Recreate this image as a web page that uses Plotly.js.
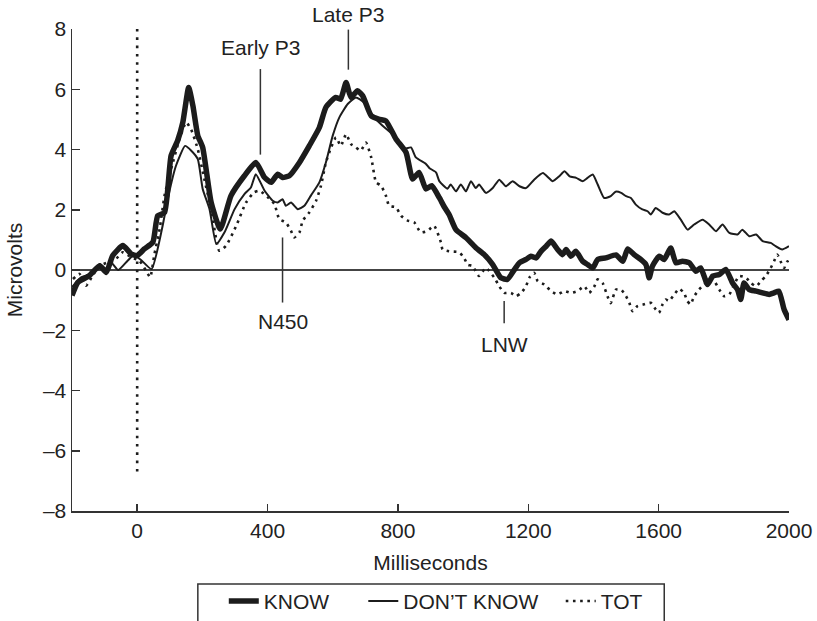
<!DOCTYPE html>
<html>
<head>
<meta charset="utf-8">
<script src="https://cdn.plot.ly/plotly-3.0.1.min.js"></script>
<style>html,body{margin:0;padding:0;background:#fff;}#chart{width:817px;height:621px;}</style>
</head>
<body>
<div id="chart"></div>
<script>
// KNOW (thick solid)
var knowMs = [-200,-182,-147,-115,-95,-75,-44,-18,0,22,48,63,84,104,124,140,158,171,186,201,227,255,288,329,364,391,411,431,446,467,498,528,559,579,609,624,641,656,676,692,718,743,763,794,825,845,865,886,904,927,942,957,978,1009,1039,1065,1091,1116,1136,1158,1173,1193,1208,1224,1239,1255,1270,1290,1305,1316,1331,1346,1367,1382,1398,1413,1438,1469,1490,1505,1525,1545,1561,1571,1581,1602,1617,1637,1653,1673,1694,1714,1729,1750,1766,1786,1806,1827,1842,1852,1862,1878,1899,1919,1939,1954,1969,1985,2000];
var knowUv = [-0.85,-0.41,-0.19,0.14,-0.08,0.48,0.81,0.53,0.48,0.70,0.92,1.8,1.91,3.79,4.29,4.9,6.06,5.45,4.46,4.07,2.24,1.36,2.47,3.13,3.57,3.07,2.91,3.18,3.07,3.13,3.57,4.12,4.73,5.40,5.73,5.67,6.22,5.73,5.95,5.78,5.12,5.0,4.95,4.35,3.9,3.02,3.24,2.69,2.8,2.4,2.1,1.84,1.34,1.07,0.74,0.51,0.18,-0.26,-0.31,0.02,0.24,0.35,0.46,0.40,0.62,0.79,0.96,0.68,0.51,0.68,0.46,0.62,0.29,0.18,0.07,0.35,0.40,0.5,0.29,0.7,0.51,0.35,0.18,-0.26,0.13,0.46,0.35,0.73,0.24,0.29,0.24,-0.04,0.07,-0.48,-0.2,-0.15,0.02,-0.43,-0.65,-0.98,-0.43,-0.65,-0.7,-0.76,-0.81,-0.76,-0.7,-1.31,-1.65];

// DON'T KNOW (thin solid)
var dkMs = [-200,-172,-142,-115,-95,-80,-58,-30,-12,10,44,76,96,119,147,166,186,201,222,243,268,299,329,349,364,391,416,431,446,456,472,493,513,533,559,579,600,620,646,671,696,723,753,783,815,840,855,886,897,917,927,952,962,978,993,1009,1024,1039,1049,1070,1091,1111,1131,1152,1173,1193,1218,1245,1275,1295,1311,1327,1347,1367,1382,1398,1413,1433,1453,1468,1485,1500,1515,1530,1550,1566,1576,1591,1612,1632,1648,1668,1689,1709,1735,1755,1776,1796,1817,1842,1857,1878,1899,1919,1944,1959,1979,2000];
var dkUv = [-0.57,-0.24,-0.13,0.2,0.03,0.25,0.0,0.3,0.48,0.35,0.03,1.36,2.47,3.46,4.12,3.96,3.68,2.69,2.02,0.86,1.25,2.02,2.52,2.74,3.18,2.63,2.30,2.24,2.35,2.13,2.24,2.02,2.13,2.47,2.91,3.57,4.46,5.06,5.51,5.73,5.56,5.12,4.79,4.51,4.01,4.07,3.74,3.52,3.38,3.24,2.95,2.7,2.84,2.61,2.84,2.61,2.95,2.72,2.84,2.56,2.72,3.0,2.78,2.95,2.78,2.72,3.0,3.22,2.95,3.11,3.28,3.11,3.06,2.95,3.06,3.17,2.84,2.39,2.45,2.6,2.56,2.45,2.39,2.17,2.01,1.95,1.84,2.06,1.90,1.84,1.95,1.67,1.34,1.51,1.67,1.51,1.29,1.51,1.23,1.18,1.34,1.12,1.18,0.96,0.90,0.79,0.68,0.79];

// TOT (dotted)
var totMs = [-197,-177,-157,-137,-115,-90,-70,-44,-18,7,27,40,53,69,84,104,130,150,165,186,206,227,252,273,304,334,359,376,401,421,436,456,472,482,498,508,528,549,564,579,595,610,625,641,656,671,686,702,718,733,748,763,773,794,810,830,850,870,891,911,932,937,957,988,1003,1014,1029,1049,1070,1096,1111,1126,1147,1162,1178,1193,1203,1218,1229,1249,1270,1290,1311,1331,1351,1372,1387,1403,1413,1428,1443,1453,1469,1485,1500,1510,1520,1535,1555,1576,1591,1601,1612,1622,1632,1648,1663,1678,1688,1698,1709,1724,1745,1766,1786,1801,1817,1832,1847,1868,1883,1899,1914,1929,1944,1954,1964,1974,1985,1995,2000];
var totUv = [-0.3,-0.13,-0.52,-0.19,0.14,0.25,0.31,0.59,0.42,0.31,-0.02,-0.24,0.53,1.36,2.47,3.35,4.35,4.90,4.68,4.01,3.02,2.02,0.64,0.81,1.47,2.24,2.58,2.63,2.41,2.19,1.69,1.58,1.30,1.08,1.25,1.64,1.91,2.30,2.80,3.57,4.07,4.40,4.12,4.51,4.18,4.07,3.96,4.23,3.74,2.91,2.80,2.47,2.13,2.08,1.80,1.64,1.58,1.25,1.30,1.47,0.92,0.68,0.62,0.59,0.40,0.18,0.13,-0.2,0.07,-0.26,-0.54,-0.76,-0.76,-0.87,-0.76,-0.54,-0.26,-0.09,-0.37,-0.48,-0.70,-0.81,-0.70,-0.76,-0.70,-0.54,-0.76,-0.54,-0.31,-0.43,-0.87,-1.1,-0.65,-0.65,-0.87,-1.09,-1.37,-1.20,-1.14,-1.09,-1.31,-1.42,-1.14,-0.98,-1.03,-0.81,-0.62,-0.76,-1.03,-1.14,-0.87,-0.65,-0.43,-0.31,-0.65,-0.87,-0.81,-0.48,-0.2,-0.26,-0.43,-0.54,-0.37,-0.20,0.07,0.29,0.51,0.29,0.07,0.29,0.18];

// Stimulus onset marker
var onsetMs = [0, 0];
var onsetUv = [8, -6.7];

// Axis ranges and tick labels
var xRange = [-200, 2000];
var yRange = [-8, 8];
var xTickVals = [0, 400, 800, 1200, 1600, 2000];
var xTickText = ['0', '400', '800', '1200', '1600', '2000'];
var yTickVals = [-8, -6, -4, -2, 0, 2, 4, 6, 8];
var yTickText = ['\u20138', '\u20136', '\u20134', '\u20132', '0', '2', '4', '6', '8'];

// Series names
var seriesNames = ['KNOW', 'DON\u2019T KNOW', 'TOT'];

// Component labels
var compNames = ['Early P3', 'Late P3', 'N450', 'LNW'];
var compMs = [378, 648, 446, 1126];
var compLineTop = [6.67, 7.98, 1.08, -1.03];
var compLineBottom = [3.83, 6.65, -1.08, -1.77];
var compTextY = [7.38, 8.47, -1.71, -2.47];

var ink = '#1c1c1c';
var fontFam = 'Liberation Sans, Arial, Helvetica, sans-serif';
var FS = 21;

// pad legend entries to match the wider spacing of the original key
var legendPad = ['\u00a0\u00a0\u00a0\u00a0\u00a0', '\u00a0\u00a0\u00a0', ''];

var traces = [
  {x: onsetMs, y: onsetUv, mode: 'lines', showlegend: false, hoverinfo: 'skip',
   line: {color: ink, width: 2.6, dash: '2.6px,5.7px'}},
  {x: knowMs, y: knowUv, mode: 'lines', name: seriesNames[0] + legendPad[0],
   line: {color: ink, width: 5.5, shape: 'spline', smoothing: 0.5}},
  {x: dkMs, y: dkUv, mode: 'lines', name: seriesNames[1] + legendPad[1],
   line: {color: ink, width: 2, shape: 'spline', smoothing: 0.5}},
  {x: totMs, y: totUv, mode: 'lines', name: seriesNames[2] + legendPad[2],
   line: {color: ink, width: 2.6, dash: '2.6px,4.6px', shape: 'spline', smoothing: 0.5}}
];

var shapes = compNames.map(function (n, i) {
  return {type: 'line', xref: 'x', yref: 'y', x0: compMs[i], x1: compMs[i],
          y0: compLineBottom[i], y1: compLineTop[i], line: {color: '#333', width: 1.5}};
});
// legend frame (runs past the bottom edge, as in the original)
shapes.push({type: 'rect', xref: 'paper', yref: 'paper', x0: 0.1755, x1: 0.826, y0: -0.1515, y1: -0.30,
             line: {color: '#333', width: 1.5}, fillcolor: 'rgba(0,0,0,0)'});

var annotations = compNames.map(function (n, i) {
  return {x: compMs[i], xref: 'x',
          y: (compTextY[i] - yRange[0]) / (yRange[1] - yRange[0]), yref: 'paper',
          text: n, showarrow: false, xanchor: 'center', yanchor: 'middle',
          font: {family: fontFam, size: FS, color: '#222'}};
});

var layout = {
  width: 817, height: 621,
  margin: {l: 72, r: 28, t: 29, b: 110, autoexpand: false},
  paper_bgcolor: '#fff', plot_bgcolor: '#fff',
  font: {family: fontFam, size: FS, color: '#222'},
  showlegend: true,
  legend: {orientation: 'h', x: 0.2117, xanchor: 'left', y: -0.145, yanchor: 'top',
           font: {family: fontFam, size: FS, color: '#222'}, borderwidth: 0,
           bgcolor: 'rgba(0,0,0,0)'},
  xaxis: {range: xRange, tickvals: xTickVals, ticktext: xTickText,
          ticks: 'inside', ticklen: 7, tickwidth: 1.5, tickcolor: '#333',
          showline: true, linecolor: '#333', linewidth: 1.5, showgrid: false, zeroline: false,
          tickfont: {family: fontFam, size: FS, color: '#222'},
          title: {text: 'Milliseconds', font: {family: fontFam, size: FS, color: '#222'}, standoff: 14}},
  yaxis: {range: yRange, tickvals: yTickVals, ticktext: yTickText,
          ticks: 'inside', ticklen: 8, tickwidth: 1.5, tickcolor: '#333',
          showline: true, linecolor: '#333', linewidth: 1.5, showgrid: false,
          zeroline: true, zerolinecolor: '#444', zerolinewidth: 1.5,
          tickfont: {family: fontFam, size: FS, color: '#222'},
          title: {text: 'Microvolts', font: {family: fontFam, size: FS, color: '#222'}, standoff: 14}},
  shapes: shapes,
  annotations: annotations
};

Plotly.newPlot('chart', traces, layout, {displayModeBar: false, staticPlot: true});
</script>
</body>
</html>
